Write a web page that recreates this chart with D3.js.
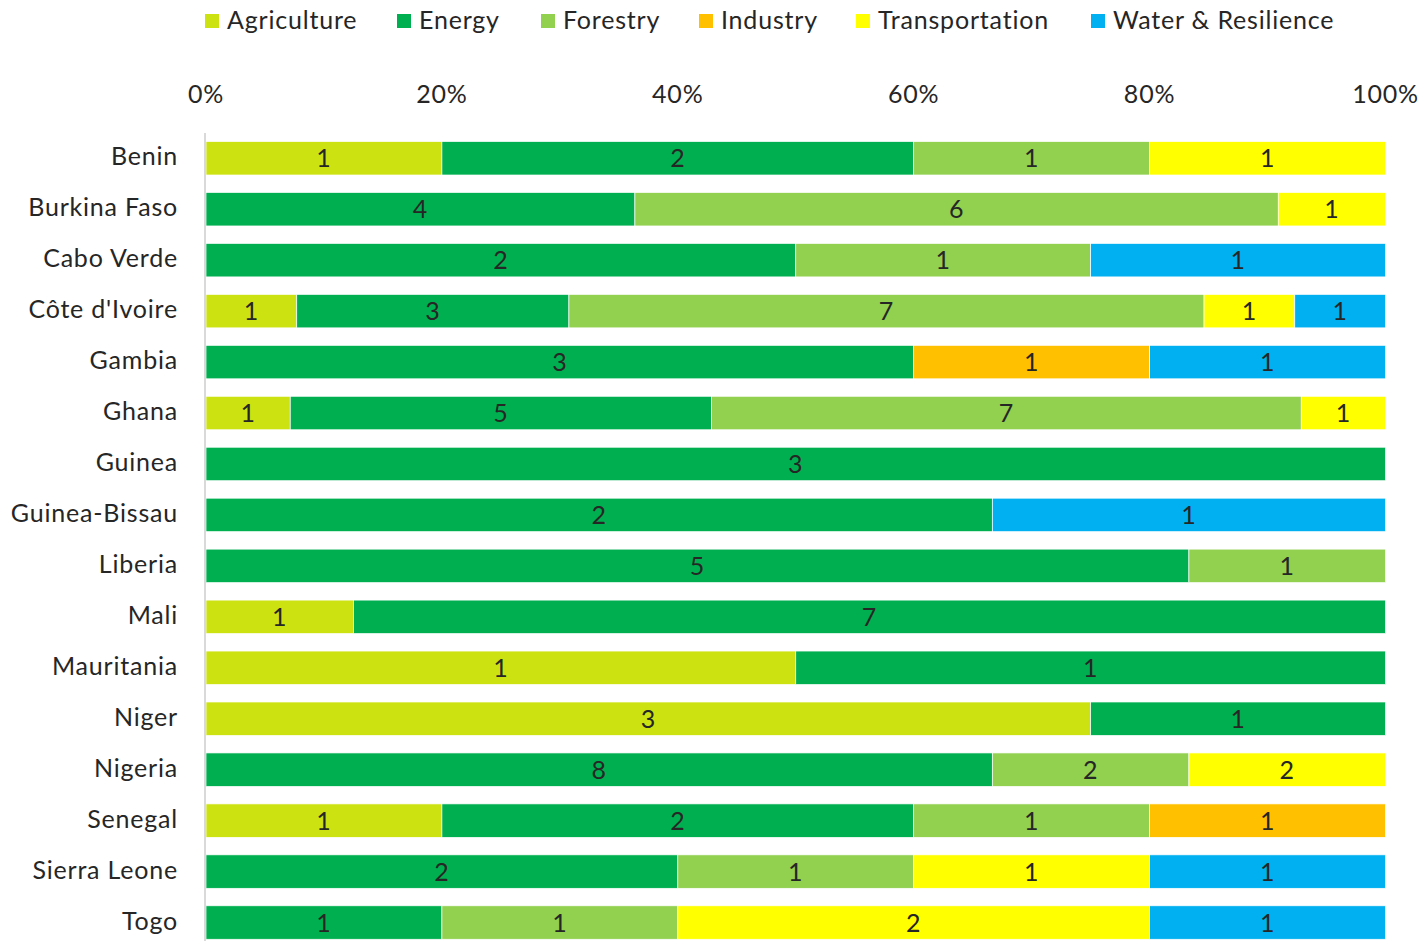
<!DOCTYPE html>
<html><head><meta charset="utf-8">
<script src="https://cdn.jsdelivr.net/npm/d3@7"></script>
<style>body{margin:0;background:#fff}svg{display:block}text{font-family:Lato,"Open Sans",sans-serif;fill:#262626;letter-spacing:0.8px}</style>
</head><body><svg width="1423" height="941"></svg>
<script>
const countries = ["Benin","Burkina Faso","Cabo Verde","Côte d'Ivoire","Gambia","Ghana","Guinea","Guinea-Bissau","Liberia","Mali","Mauritania","Niger","Nigeria","Senegal","Sierra Leone","Togo"];
const sectors = ["Agriculture","Energy","Forestry","Industry","Transportation","Water & Resilience"];
const colors = ["#CDE311","#00B050","#92D050","#FFC000","#FFFF00","#00B0F0"];
const agriculture    = [1,0,0,1,0,1,0,0,0,1,1,3,0,1,0,0];
const energy         = [2,4,2,3,3,5,3,2,5,7,1,1,8,2,2,1];
const forestry       = [1,6,1,7,0,7,0,0,1,0,0,0,2,1,1,1];
const industry       = [0,0,0,0,1,0,0,0,0,0,0,0,0,1,0,0];
const transportation = [1,1,0,1,0,1,0,0,0,0,0,0,2,0,1,2];
const water          = [0,0,1,1,1,0,0,1,0,0,0,0,0,0,1,1];
const tickLabels = ["0%","20%","40%","60%","80%","100%"];

const seriesVals = [agriculture, energy, forestry, industry, transportation, water];
const rows = countries.map((c,i)=>{const o={country:c};sectors.forEach((s,j)=>o[s]=seriesVals[j][i]);return o;});
const norm = rows.map(r=>{const t=d3.sum(sectors,s=>r[s]);const o={country:r.country};sectors.forEach(s=>o[s]=r[s]/t);return o;});
const stack = d3.stack().keys(sectors)(norm);

const svg = d3.select("svg");
const x = d3.scaleLinear().domain([0,1]).range([206,1385.5]);
const y = d3.scaleBand().domain(countries).range([132.8,948]).paddingInner(0.343).paddingOuter(0.343/2);
const color = d3.scaleOrdinal().domain(sectors).range(colors);

// top axis labels
svg.append("g").selectAll("text").data(tickLabels).join("text")
  .attr("x",(d,i)=>x(i/5)).attr("y",103).attr("text-anchor","middle")
  .attr("font-size",25).text(d=>d);

// bars
const g = svg.append("g");
stack.forEach((layer,li)=>{
  const key = layer.key;
  layer.forEach((seg,i)=>{
    const v = rows[i][key];
    if(!v) return;
    g.append("rect").attr("x",x(seg[0])).attr("y",y(countries[i]))
      .attr("width",x(seg[1])-x(seg[0])).attr("height",y.bandwidth())
      .attr("fill",color(key)).attr("stroke","#fff").attr("stroke-width",0.7);
    g.append("text").attr("x",(x(seg[0])+x(seg[1]))/2).attr("y",y(countries[i])+y.bandwidth()/2+9)
      .attr("text-anchor","middle").attr("font-size",25).text(v);
  });
});

// y axis line
svg.append("line").attr("x1",205).attr("x2",205).attr("y1",133).attr("y2",941)
  .attr("stroke","#d9d9d9").attr("stroke-width",2);

// country labels
svg.append("g").selectAll("text").data(countries).join("text")
  .attr("x",178).attr("y",d=>y(d)+y.bandwidth()/2+7).attr("text-anchor","end")
  .attr("font-size",25).text(d=>d);

// legend
const legX = [205,397,541,699,856,1091];
const lg = svg.append("g");
sectors.forEach((s,i)=>{
  lg.append("rect").attr("x",legX[i]).attr("y",14).attr("width",14).attr("height",14).attr("fill",colors[i]);
  lg.append("text").attr("x",legX[i]+22).attr("y",29).attr("font-size",25).text(s);
});
</script></body></html>
